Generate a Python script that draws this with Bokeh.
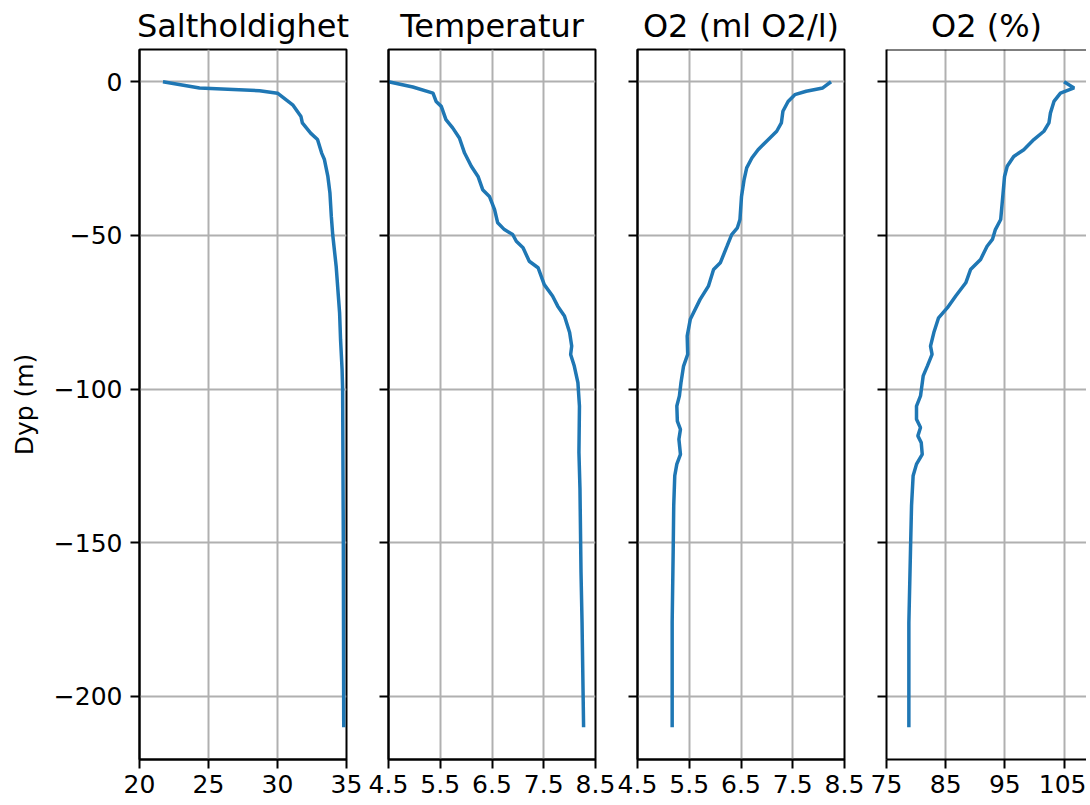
from bokeh.plotting import figure
from bokeh.layouts import row
from bokeh.models import Range1d, FixedTicker, Span
from bokeh.embed import file_html
from bokeh.resources import INLINE

# ---------------- data ----------------
titles = ["Saltholdighet", "Temperatur", "O2 (ml O2/l)", "O2 (%)"]
y_label = "Dyp (m)"
y_ticks = [0, -50, -100, -150, -200]

sal_depth = [0, -2.0, -2.9, -3.7, -7.5, -11.3, -13.4, -16.7, -18.8, -23.2, -25.3,
             -30.8, -36.2, -43.8, -49.7, -60, -75.2, -84, -93.6, -100, -150, -210]
sal_values = [21.7, 24.35, 28.7, 30.0, 31.1, 31.7, 31.8, 32.4, 32.9, 33.2, 33.4,
              33.65, 33.8, 33.9, 34.0, 34.25, 34.5, 34.57, 34.68, 34.72, 34.77, 34.8]

temp_depth = [0, -1.7, -3.7, -6.4, -8.0, -12.3, -15.0, -18.3, -23.2, -27.5, -30.8,
              -35.1, -37.3, -41.6, -45.9, -48.1, -49.7, -51.9, -54.0, -58.4, -60.5,
              -66.0, -69.7, -73.0, -76.2, -81.6, -86.0, -88.7, -92.5, -97.9, -105.5,
              -120.6, -132.5, -159.6, -175.9, -210]
temp_values = [4.5, 4.97, 5.36, 5.42, 5.52, 5.61, 5.74, 5.87, 5.97, 6.10, 6.23,
               6.32, 6.45, 6.55, 6.61, 6.74, 6.90, 6.97, 7.10, 7.22, 7.39,
               7.51, 7.67, 7.77, 7.90, 8.0, 8.04, 8.02, 8.09, 8.16, 8.19,
               8.18, 8.20, 8.22, 8.24, 8.27]

o2ml_depth = [0, -2.0, -3.1, -4.2, -6.4, -9.6, -13.4, -16.1, -19.4, -22.1, -24.8,
              -28.0, -31.8, -37.3, -44.8, -47.5, -49.7, -53.5, -58.9, -61.1, -66.5,
              -70.8, -75.2, -77.3, -82.7, -88.7, -92.5, -97.9, -102.2, -105.5, -110.4,
              -113.1, -116.3, -121.2, -124.4, -128.2, -138.0, -152.0, -175.9, -210]
o2ml_values = [8.24, 8.08, 7.76, 7.54, 7.41, 7.31, 7.28, 7.19, 6.99, 6.83, 6.71,
               6.61, 6.56, 6.51, 6.48, 6.43, 6.32, 6.23, 6.10, 5.97, 5.87,
               5.71, 5.58, 5.52, 5.46, 5.47, 5.39, 5.34, 5.31, 5.26, 5.27,
               5.33, 5.30, 5.33, 5.26, 5.22, 5.20, 5.19, 5.17, 5.17]

o2pct_depth = [0, -2.0, -3.7, -6.4, -10.2, -13.4, -16.1, -18.8, -22.1, -24.3, -27.5,
               -30.8, -36.2, -44.8, -48.1, -51.3, -53.5, -57.8, -61.1, -65.4, -69.7,
               -73.5, -76.8, -81.6, -86.0, -88.7, -92.5, -95.7, -102.2, -105.5, -109.8,
               -112.5, -115.2, -117.4, -121.2, -124.4, -128.2, -138.0, -152.0, -175.9, -210]
o2pct_values = [105.0, 106.7, 104.4, 103.3, 102.7, 102.45, 101.6, 99.9, 98.2, 96.5, 95.4,
                94.95, 94.7, 94.3, 93.4, 92.9, 92.0, 90.9, 89.2, 88.4, 86.7,
                85.3, 83.8, 83.0, 82.44, 82.7, 81.9, 81.2, 80.75, 80.07, 80.07,
                80.75, 80.3, 80.87, 81.04, 80.07, 79.5, 79.23, 79.06, 78.78, 78.78]

sal_ticks = [20, 25, 30, 35]
temp_ticks = [4.5, 5.5, 6.5, 7.5, 8.5]
o2ml_ticks = [4.5, 5.5, 6.5, 7.5, 8.5]
o2pct_ticks = [75, 85, 95, 105]

# ---------------- styling ----------------
FONT = "DejaVu Sans"
LINE_COLOR = "#1f77b4"
GRID_COLOR = "#b0b0b0"

y_range = Range1d(-220.5, 10.5)


def minus(v):
    return ("\u2212" + str(abs(v))) if v < 0 else str(v)


def make_panel(title, xs, ys, xr, xticks, left_b, right_b, frame_w,
               first=False, last=False):
    p = figure(frame_height=710, frame_width=frame_w, x_range=xr, y_range=y_range,
               output_backend="svg", toolbar_location=None, title=title,
               min_border_left=left_b, min_border_right=right_b,
               min_border_top=49, min_border_bottom=40)
    p.background_fill_color = "white"
    p.border_fill_color = "white"
    p.title.text_font = FONT
    p.title.text_font_size = "32px"
    p.title.text_font_style = "normal"
    p.title.text_color = "black"
    p.title.align = "center"
    p.title.standoff = 9

    if last:
        p.outline_line_color = None
        p.add_layout(Span(location=y_range.end, dimension="width",
                          line_color="black", line_width=2))
    else:
        p.outline_line_color = "black"
        p.outline_line_width = 2
        p.outline_line_alpha = 1

    for ax in (p.xaxis[0], p.yaxis[0]):
        ax.axis_line_color = "black"
        ax.axis_line_width = 2
        ax.major_tick_line_color = "black"
        ax.major_tick_line_width = 2
        ax.major_tick_out = 9
        ax.major_tick_in = 0
        ax.minor_tick_line_color = None
        ax.major_label_text_font = FONT
        ax.major_label_text_color = "black"

    p.xaxis.ticker = FixedTicker(ticks=xticks)
    p.xaxis.major_label_text_font_size = "25px"
    p.xaxis.major_label_standoff = 6

    p.yaxis.ticker = FixedTicker(ticks=y_ticks)
    p.yaxis.major_label_text_font_size = "25px"
    if first:
        p.yaxis.major_label_standoff = 8
        p.yaxis.major_label_overrides = {t: minus(t) for t in y_ticks}
        p.yaxis.axis_label = y_label
        p.yaxis.axis_label_text_font = FONT
        p.yaxis.axis_label_text_font_size = "25px"
        p.yaxis.axis_label_text_font_style = "normal"
        p.yaxis.axis_label_text_color = "black"
        p.yaxis.axis_label_standoff = 12
    else:
        p.yaxis.major_label_standoff = 0
        p.yaxis.major_label_overrides = {t: "" for t in y_ticks}

    p.xgrid.ticker = FixedTicker(ticks=xticks)
    p.ygrid.ticker = FixedTicker(ticks=y_ticks)
    for g in (p.xgrid[0], p.ygrid[0]):
        g.grid_line_color = GRID_COLOR
        g.grid_line_width = 2
        g.grid_line_alpha = 1

    p.line(xs, ys, line_color=LINE_COLOR, line_width=3.5)
    return p


p1 = make_panel(titles[0], sal_values, sal_depth, Range1d(20, 35), sal_ticks,
                139, 21, 207, first=True)
p2 = make_panel(titles[1], temp_values, temp_depth, Range1d(4.5, 8.5), temp_ticks,
                21, 21, 207)
p3 = make_panel(titles[2], o2ml_values, o2ml_depth, Range1d(4.5, 8.5), o2ml_ticks,
                21, 21, 207)
p4 = make_panel(titles[3], o2pct_values, o2pct_depth, Range1d(75, 108.8), o2pct_ticks,
                21, 0, 200, last=True)

layout = row(p1, p2, p3, p4, spacing=0)

open("out.html", "w").write(file_html(layout, INLINE))
